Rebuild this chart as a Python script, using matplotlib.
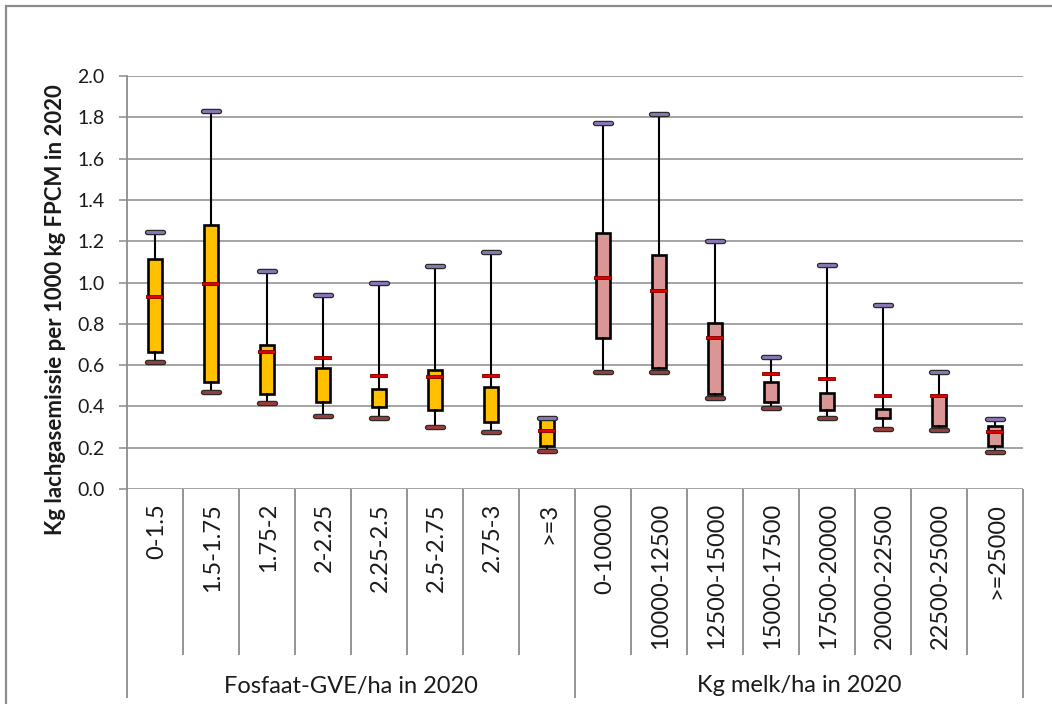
import matplotlib
matplotlib.use("Agg")
import matplotlib.pyplot as plt
import matplotlib.patheffects as pe
from matplotlib.patches import Rectangle

plt.rcParams["font.family"] = ["Lato", "DejaVu Sans"]

# Categories of the two groupings
fosfaat_labels = ["0-1.5", "1.5-1.75", "1.75-2", "2-2.25", "2.25-2.5", "2.5-2.75", "2.75-3", ">=3"]
melk_labels = ["0-10000", "10000-12500", "12500-15000", "15000-17500",
               "17500-20000", "20000-22500", "22500-25000", ">=25000"]
group_titles = ["Fosfaat-GVE/ha in 2020", "Kg melk/ha in 2020"]

# Kg lachgasemissie per 1000 kg FPCM: min, Q1, gemiddelde, Q3, max
fosfaat_min = [0.615, 0.468, 0.416, 0.355, 0.342, 0.302, 0.274, 0.186]
fosfaat_q1 = [0.665, 0.517, 0.460, 0.420, 0.395, 0.381, 0.324, 0.207]
fosfaat_mean = [0.930, 0.993, 0.662, 0.634, 0.549, 0.542, 0.549, 0.282]
fosfaat_q3 = [1.114, 1.280, 0.699, 0.584, 0.483, 0.578, 0.492, 0.337]
fosfaat_max = [1.243, 1.829, 1.054, 0.941, 0.998, 1.078, 1.146, 0.342]

melk_min = [0.565, 0.565, 0.441, 0.394, 0.342, 0.292, 0.287, 0.179]
melk_q1 = [0.730, 0.588, 0.458, 0.423, 0.381, 0.342, 0.305, 0.207]
melk_mean = [1.020, 0.959, 0.731, 0.559, 0.531, 0.452, 0.452, 0.274]
melk_q3 = [1.240, 1.132, 0.805, 0.517, 0.465, 0.386, 0.450, 0.305]
melk_max = [1.772, 1.818, 1.203, 0.639, 1.083, 0.889, 0.565, 0.337]

y_label = "Kg lachgasemissie per 1000 kg FPCM in 2020"

GRID = "#8c8c8c"
TEXT = "#1a1a1a"

W, H = 1052, 704
fig = plt.figure(figsize=(W / 100, H / 100), dpi=100)
ax = fig.add_axes([127 / W, 1 - 489 / H, 896 / W, 413 / H])


def make_stats(lo, q1, mean, q3, hi):
    return [dict(whislo=a, q1=b, med=c, mean=c, q3=d, whishi=e, fliers=[])
            for a, b, c, d, e in zip(lo, q1, mean, q3, hi)]


groups = [
    (make_stats(fosfaat_min, fosfaat_q1, fosfaat_mean, fosfaat_q3, fosfaat_max), "#FFC000", 0),
    (make_stats(melk_min, melk_q1, melk_mean, melk_q3, melk_max), "#D99694", len(fosfaat_labels)),
]

for stats, face, offset in groups:
    positions = [offset + i + 0.5 for i in range(len(stats))]
    res = ax.bxp(stats, positions=positions, widths=0.26, capwidths=0.28,
                 patch_artist=True, showmeans=True, meanline=True,
                 showfliers=False, manage_ticks=False,
                 boxprops=dict(facecolor=face, edgecolor="black", linewidth=1.9),
                 whiskerprops=dict(color="black", linewidth=1.5),
                 capprops=dict(linewidth=2.1, solid_capstyle="round"),
                 medianprops=dict(linewidth=0),
                 meanprops=dict(color="#e00000", linewidth=1.5, linestyle="-",
                                solid_capstyle="projecting"))
    for k, cap in enumerate(res["caps"]):
        cap.set_color("#9a3c3a" if k % 2 == 0 else "#8a77b8")
        cap.set_path_effects([pe.Stroke(linewidth=3.9, foreground="#2a2a2a"), pe.Normal()])
        cap.set_zorder(3)
    for m in res["means"]:
        m.set_path_effects([pe.Stroke(linewidth=2.8, foreground="#8a0000"), pe.Normal()])
        m.set_zorder(4)

n_cat = len(fosfaat_labels) + len(melk_labels)
ax.set_xlim(0, n_cat)
ax.set_ylim(0, 2.0)
ax.set_yticks([i * 0.2 for i in range(11)])
ax.set_yticklabels([f"{i * 0.2:.1f}" for i in range(11)], fontsize=14, color=TEXT)
ax.set_xticks([])
ax.yaxis.grid(True, color=GRID, linewidth=1.1)
ax.set_axisbelow(True)
ax.tick_params(axis="y", length=6, width=1.1, color=GRID, pad=10)
for side in ["right", "top", "bottom"]:
    ax.spines[side].set_visible(False)
ax.spines["left"].set_color(GRID)
ax.spines["left"].set_linewidth(1.3)

# Category separators below the plot area
xt = ax.get_xaxis_transform()
inner_bottom = (489 - 655) / 413
outer_bottom = (489 - 698) / 413
for b in range(n_cat + 1):
    bottom = outer_bottom if b in (0, len(fosfaat_labels), n_cat) else inner_bottom
    ax.plot([b, b], [0, bottom], color=GRID, linewidth=1.3, transform=xt,
            clip_on=False, solid_capstyle="butt")

# Category and group labels
all_labels = fosfaat_labels + melk_labels
for i, lab in enumerate(all_labels):
    ax.text(i + 0.53, (489 - 503) / 413, lab, rotation=90, ha="center", va="top",
            fontsize=17, color=TEXT, transform=xt)
for g, title in enumerate(group_titles):
    ax.text(4 + 8 * g, (489 - 686) / 413, title, ha="center", va="center",
            fontsize=17, color=TEXT, transform=xt)

fig.text(56 / W, 1 - 310 / H, y_label, rotation=90, ha="center", va="center",
         fontsize=16, fontweight="bold", color=TEXT)

# Chart frame
fig.add_artist(Rectangle((6 / W, -0.1), 1.2, 1 - 6 / H + 0.1, transform=fig.transFigure,
                         fill=False, edgecolor=GRID, linewidth=1.6))

fig.savefig("out.png", dpi=100)
